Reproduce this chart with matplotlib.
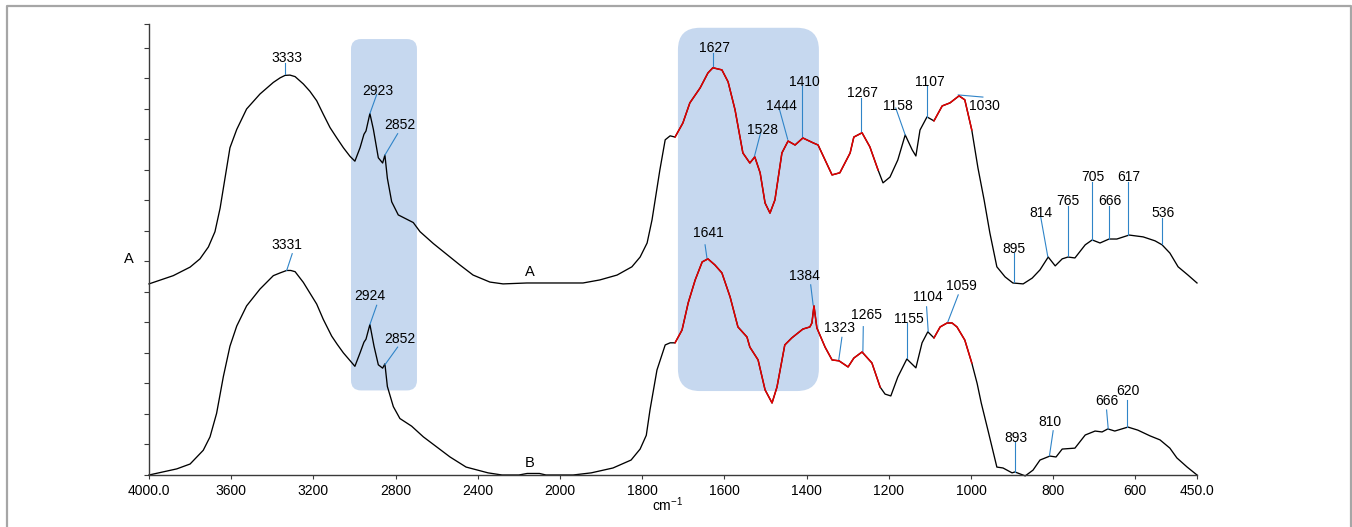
import numpy as np
import matplotlib.pyplot as plt
from matplotlib.patches import FancyBboxPatch
from matplotlib.lines import Line2D
from matplotlib.transforms import IdentityTransform

plt.rcParams['font.family'] = ['Liberation Sans', 'DejaVu Sans']
plt.rcParams['mathtext.fontset'] = 'custom'
plt.rcParams['mathtext.rm'] = 'Liberation Sans'
plt.rcParams['mathtext.default'] = 'regular'

# --- spectrum A (upper trace), wavenumber in cm-1, absorbance in arbitrary units
WN_A = [4000, 3882, 3800, 3752, 3711, 3679, 3654, 3630, 3606, 3573, 3525, 3460, 3395,
        3362, 3338, 3314, 3289, 3249, 3217, 3184, 3152, 3119, 3087, 3054, 3022, 2998,
        2973, 2954, 2944, 2925, 2908, 2884, 2863,
        2852, 2840, 2819, 2787, 2714, 2681, 2616, 2535, 2487, 2423, 2341, 2277, 2161,
        1993, 1944, 1903, 1861, 1825, 1805, 1788, 1776, 1757, 1744, 1732, 1720, 1701,
        1684, 1659, 1640, 1628, 1606, 1591, 1574, 1555, 1538, 1526, 1513, 1501, 1489,
        1477, 1460, 1445, 1428, 1409, 1384, 1372, 1355, 1338, 1319, 1294, 1285, 1265,
        1246, 1226, 1214, 1197, 1178, 1160, 1143, 1134, 1124, 1107, 1090, 1070, 1051,
        1029, 1015, 998, 983, 968, 954, 937, 917, 898, 873, 851, 832, 812, 795, 778,
        764, 747, 722, 705, 686, 664, 645, 615, 581, 552, 535, 516, 496, 472, 450]
ABS_A = [6.26, 6.53, 6.81, 7.08, 7.47, 7.97, 8.74, 9.72, 10.72, 11.32, 11.99, 12.48, 12.86,
         13.01, 13.09, 13.10, 13.05, 12.81, 12.57, 12.26, 11.82, 11.38, 11.05, 10.72, 10.44, 10.28,
         10.72, 11.16, 11.27, 11.84, 11.32, 10.39, 10.22,
         10.48, 9.72, 8.95, 8.52, 8.27, 7.97, 7.58, 7.14, 6.88, 6.55, 6.32, 6.26, 6.29,
         6.29, 6.29, 6.39, 6.55, 6.82, 7.14, 7.60, 8.36, 9.99, 10.98, 11.11, 11.07, 11.53,
         12.19, 12.68, 13.17, 13.34, 13.27, 12.88, 11.96, 10.55, 10.22, 10.42, 9.90, 8.91, 8.58,
         9.01, 10.55, 10.94, 10.81, 11.04, 10.88, 10.81, 10.32, 9.83, 9.90, 10.55, 11.07, 11.21,
         10.75, 9.99, 9.57, 9.76, 10.32, 11.14, 10.65, 10.45, 11.30, 11.73, 11.60, 12.09, 12.19,
         12.42, 12.29, 11.30, 10.06, 9.01, 7.93, 6.82, 6.49, 6.29, 6.26, 6.45, 6.72, 7.14, 6.85, 7.08,
         7.14, 7.11, 7.54, 7.70, 7.60, 7.73, 7.73, 7.86, 7.80, 7.67, 7.54, 7.27, 6.82, 6.55, 6.29]

# --- spectrum B (lower trace)
WN_B = [4000, 3865, 3800, 3736, 3703, 3671, 3638, 3606, 3573, 3525, 3460, 3395, 3362,
        3330, 3310, 3289, 3249, 3217, 3184, 3152, 3111, 3084, 3054, 2998, 2973, 2954,
        2944, 2925, 2905, 2884, 2863, 2852,
        2840, 2811, 2779, 2722, 2665, 2535, 2457, 2350, 2282, 2200, 2160, 2100, 2068,
        1968, 1924, 1871, 1827, 1805, 1790, 1781, 1764, 1744, 1732, 1720, 1703, 1688,
        1671, 1654, 1640, 1623, 1606, 1586, 1567, 1545, 1538, 1518, 1501, 1484, 1472,
        1453, 1436, 1409, 1392, 1387, 1382, 1375, 1355, 1338, 1321, 1299, 1285, 1265,
        1241, 1221, 1209, 1195, 1178, 1156, 1134, 1119, 1105, 1090, 1075, 1058, 1046,
        1034, 1015, 998, 985, 975, 958, 937, 922, 900, 893, 868, 849, 832, 808, 793,
        778, 747, 722, 698, 681, 667, 650, 618, 594, 564, 540, 516, 499, 474, 450]
ABS_B = [0.00, 0.20, 0.36, 0.81, 1.25, 2.02, 3.23, 4.22, 4.88, 5.54, 6.09, 6.53, 6.62,
         6.70, 6.70, 6.66, 6.31, 5.96, 5.60, 5.10, 4.55, 4.28, 4.00, 3.56, 4.00, 4.35,
         4.45, 4.93, 4.22, 3.61, 3.50, 3.64,
         2.90, 2.24, 1.85, 1.60, 1.25, 0.59, 0.26, 0.07, 0.00, 0.00, 0.05, 0.05, 0.00,
         0.00, 0.07, 0.23, 0.49, 0.85, 1.30, 2.13, 3.44, 4.26, 4.33, 4.33, 4.75, 5.64,
         6.39, 6.98, 7.08, 6.88, 6.62, 5.83, 4.85, 4.52, 4.19, 3.77, 2.79, 2.36, 2.88,
         4.26, 4.49, 4.78, 4.85, 4.98, 5.54, 4.82, 4.19, 3.77, 3.74, 3.54, 3.83, 4.03,
         3.67, 2.88, 2.65, 2.59, 3.21, 3.80, 3.51, 4.33, 4.69, 4.49, 4.85, 4.98, 4.98,
         4.85, 4.42, 3.67, 3.00, 2.36, 1.43, 0.26, 0.23, 0.07, 0.10, -0.03, 0.16, 0.49, 0.62, 0.59,
         0.85, 0.88, 1.31, 1.44, 1.41, 1.51, 1.44, 1.57, 1.47, 1.28, 1.15, 0.88, 0.56, 0.26, 0.00]

# wavenumber windows redrawn in red
RED_RANGES = [(1217, 1720), (990, 1092)]

# peak labels: text, text position (wn, y), leader start (wn, y), leader end at the peak (wn, y)
PEAKS = [
    ("3333", 3330, 13.67, 3338, 13.48, 3338, 13.12),
    ("2923", 2887, 12.59, 2892, 12.46, 2925, 11.84),
    ("2852", 2779, 11.47, 2790, 11.18, 2852, 10.48),
    ("1627", 1623, 13.98, 1628, 13.82, 1628, 13.35),
    ("1528", 1507, 11.30, 1512, 11.20, 1527, 10.43),
    ("1444", 1462, 12.09, 1466, 11.98, 1446, 11.00),
    ("1410", 1406, 12.89, 1410, 12.78, 1410, 11.03),
    ("1267", 1263, 12.51, 1268, 12.36, 1268, 11.25),
    ("1158", 1179, 12.09, 1183, 12.02, 1160, 11.14),
    ("1107", 1101, 12.89, 1106, 12.78, 1106, 11.74),
    ("1030", 968, 12.09, 971, 12.38, 1031, 12.45),
    ("895", 895, 7.40, 896, 7.26, 896, 6.33),
    ("814", 830, 8.57, 830, 8.43, 813, 7.15),
    ("765", 763, 8.96, 764, 8.81, 764, 7.18),
    ("705", 704, 9.75, 705, 9.61, 705, 7.70),
    ("666", 662, 8.96, 664, 8.81, 664, 7.72),
    ("617", 615, 9.75, 617, 9.61, 617, 7.86),
    ("536", 532, 8.57, 534, 8.43, 534, 7.57),
    ("3331", 3327, 7.55, 3303, 7.25, 3330, 6.70),
    ("2924", 2925, 5.85, 2892, 5.56, 2925, 4.93),
    ("2852", 2779, 4.47, 2790, 4.19, 2852, 3.61),
    ("1641", 1639, 7.92, 1647, 7.54, 1642, 7.07),
    ("1384", 1405, 6.53, 1390, 6.23, 1384, 5.57),
    ("1323", 1320, 4.83, 1314, 4.51, 1322, 3.74),
    ("1265", 1255, 5.24, 1262, 4.86, 1263, 4.04),
    ("1155", 1151, 5.11, 1156, 4.99, 1156, 3.82),
    ("1104", 1104, 5.84, 1108, 5.51, 1104, 4.70),
    ("1059", 1024, 6.20, 1031, 5.90, 1057, 4.99),
    ("893", 891, 1.20, 893, 1.09, 893, 0.11),
    ("810", 808, 1.75, 800, 1.45, 809, 0.63),
    ("666", 670, 2.42, 670, 2.13, 666, 1.51),
    ("620", 617, 2.76, 620, 2.46, 620, 1.58),
]

# highlighted bands: wn from, wn to, y bottom, y top
BANDS = [(3017, 2696, 2.77, 14.28), (1713, 1370, 2.75, 14.65)]
BAND_RADIUS = [10, 22]

XTICKS = [4000, 3600, 3200, 2800, 2400, 2000, 1800, 1600, 1400, 1200, 1000, 800, 600, 450]
XTICKLABELS = ["4000.0", "3600", "3200", "2800", "2400", "2000", "1800", "1600",
               "1400", "1200", "1000", "800", "600", "450.0"]
YMAX = 14.79

COR_LINHA = "black"
COR_VERMELHO = "#e30000"
COR_GUIA = "#2f84c8"
COR_FAIXA = "#c6d8ef"
FS = 10


def fwd(w):
    w = np.asarray(w, dtype=float)
    return np.where(w < 2000, w, 2000 + (w - 2000) / 2)


def inv(u):
    u = np.asarray(u, dtype=float)
    return np.where(u < 2000, u, 2000 + (u - 2000) * 2)


def red_parts(wn, ab):
    wn = np.asarray(wn)
    ab = np.asarray(ab)
    for lo, hi in RED_RANGES:
        m = (wn >= lo) & (wn <= hi)
        yield wn[m], ab[m]


fig = plt.figure(figsize=(13.52, 5.27), dpi=100)
ax = fig.add_axes([149 / 1352, 52 / 527, 1048 / 1352, 451.5 / 527])
ax.set_xscale('function', functions=(fwd, inv))
ax.set_xlim(4000, 450)
ax.set_ylim(0, YMAX)

# shaded bands (drawn in pixels so the rounded corners stay round)
for (w0, w1, y0, y1), r in zip(BANDS, BAND_RADIUS):
    x0, yb = ax.transData.transform((w0, y0))
    x1, yt = ax.transData.transform((w1, y1))
    box = FancyBboxPatch((min(x0, x1), yb), abs(x1 - x0), yt - yb,
                         boxstyle=f"round,pad=0,rounding_size={r}",
                         transform=IdentityTransform(), facecolor=COR_FAIXA,
                         edgecolor="none", zorder=0.5)
    ax.add_patch(box)

for wn, ab in [(WN_A, ABS_A), (WN_B, ABS_B)]:
    ax.plot(wn, ab, color=COR_LINHA, lw=0.95, zorder=2, clip_on=False,
            solid_joinstyle="round")
    for wr, ar in red_parts(wn, ab):
        ax.plot(wr, ar, color=COR_VERMELHO, lw=1.1, zorder=3, solid_joinstyle="round")

for txt, tw, ty, lw0, ly0, pw, py in PEAKS:
    ax.plot([lw0, pw], [ly0, py], color=COR_GUIA, lw=0.8, zorder=2.5)
    ax.text(tw, ty, txt, ha="center", va="center", fontsize=FS, zorder=4)

ax.text(2146, 6.65, "A", ha="center", va="center", fontsize=FS + 0.5)
ax.text(2150, 0.39, "B", ha="center", va="center", fontsize=FS + 0.5)

for s in ["top", "right"]:
    ax.spines[s].set_visible(False)
for s in ["left", "bottom"]:
    ax.spines[s].set_color("#3a3a3a")
    ax.spines[s].set_linewidth(1.0)

ax.set_xticks(XTICKS)
ax.set_xticklabels(XTICKLABELS)
ax.xaxis.set_minor_locator(plt.NullLocator())
ax.set_yticks(list(range(15)) + [YMAX])
ax.set_yticklabels([])
ax.tick_params(axis="x", direction="out", length=3.2, width=0.8, color="#3a3a3a",
               labelsize=FS, pad=3.5)
ax.tick_params(axis="y", direction="out", length=3.6, width=0.8, color="#3a3a3a")

ax.set_xlabel("cm$^{-1}$", fontsize=FS)
ax.xaxis.set_label_coords(0.495, -0.066)
ax.xaxis.label.set_va("center")
ax.set_ylabel("A", fontsize=FS + 0.5, rotation=0)
ax.yaxis.set_label_coords(-0.0194, 0.478)
ax.yaxis.label.set_va("center")
ax.yaxis.label.set_ha("center")

# grey frame round the whole picture
frame = Line2D([7 / 1352, 7 / 1352, 1350.5 / 1352, 1350.5 / 1352],
               [0, 1 - 6 / 527, 1 - 6 / 527, 0],
               transform=fig.transFigure, color="#a6a6a6", lw=1.6)
fig.add_artist(frame)

fig.savefig("out.png", dpi=100)
plt.close(fig)
